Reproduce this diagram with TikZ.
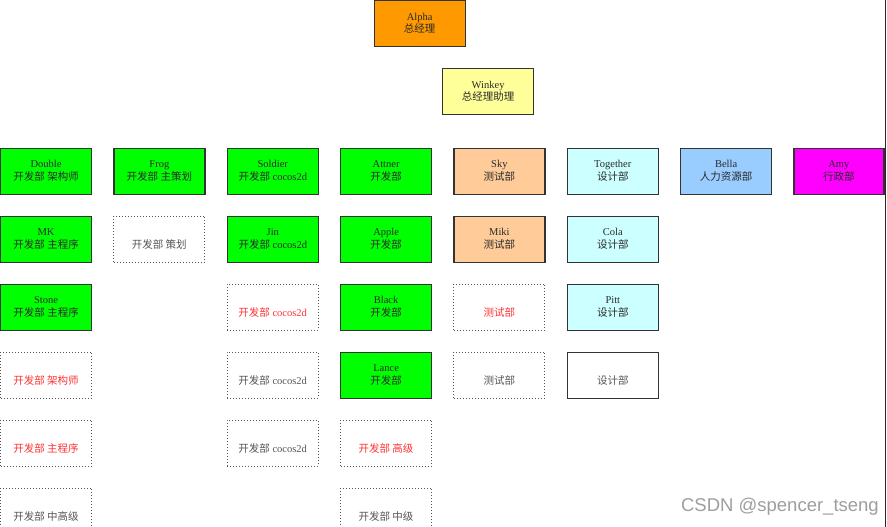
\documentclass[tikz,border=0pt]{standalone}
\usepackage{fontspec}
\setmainfont{Liberation Serif}
\newfontfamily\cjk{Noto Sans CJK SC}
\newfontfamily\wmfont{Liberation Sans}
\definecolor{devgreen}{HTML}{00FF00}
\definecolor{bossorange}{HTML}{FF9900}
\definecolor{assistyellow}{HTML}{FFFF99}
\definecolor{testpeach}{HTML}{FFCC99}
\definecolor{designcyan}{HTML}{CCFFFF}
\definecolor{hrblue}{HTML}{99CCFF}
\definecolor{adminmagenta}{HTML}{FF00FF}
\definecolor{boxline}{HTML}{333333}
\definecolor{dotline}{HTML}{555555}
\definecolor{inktext}{HTML}{2A2A2A}
\definecolor{greytext}{HTML}{555555}
\definecolor{vacantred}{HTML}{FF3333}
\definecolor{wmgrey}{HTML}{9E9E9E}
\tikzset{
  cell/.style={rectangle, minimum width=91pt, minimum height=46pt, inner sep=0pt, anchor=north west},
  solidcell/.style={cell, draw=boxline, line width=1.2pt},
  dotcell/.style={cell, draw=dotline, line width=1pt, dotted},
  txt/.style={inner sep=0pt, anchor=base, font=\fontsize{10.5}{12.5}\selectfont, text=inktext},
  greytxt/.style={txt, text=greytext},
  redtxt/.style={txt, text=vacantred},
}
% two-line box: name, x, y, box style, first line, second line
\newcommand\orgcard[6]{%
  \node[#4] (#1) at (#2,#3) {};
  \node[txt] (#1-a) at ([yshift=3.5pt]#1.center) {#5};
  \node[txt] (#1-b) at ([yshift=-9pt]#1.center) {#6};
}
% one-line box: name, x, y, box style, text style, text
\newcommand\orgslot[6]{%
  \node[#4] (#1) at (#2,#3) {};
  \node[#5] (#1-b) at ([yshift=-9pt]#1.center) {#6};
}
\begin{document}
\begin{tikzpicture}[x=1pt,y=-1pt]
\useasboundingbox (0,0) rectangle (887,527);
\clip (0,0) rectangle (887,527);
\fill[white] (0,0) rectangle (887,527);

% management
\orgcard{alpha}{373.5}{0}{solidcell, fill=bossorange}{Alpha}{\cjk 总经理}
\orgcard{winkey}{442}{68}{solidcell, fill=assistyellow}{Winkey}{\cjk 总经理助理}

% column 1: architects / programmers
\orgcard{double}{0}{147.5}{solidcell, fill=devgreen}{Double}{\cjk 开发部 架构师}
\orgcard{mk}{0}{215.5}{solidcell, fill=devgreen}{MK}{\cjk 开发部 主程序}
\orgcard{stone}{0}{283.5}{solidcell, fill=devgreen}{Stone}{\cjk 开发部 主程序}
\orgslot{arch}{0}{351.5}{dotcell}{redtxt}{\cjk 开发部 架构师}
\orgslot{mainprog}{0}{419.5}{dotcell}{redtxt}{\cjk 开发部 主程序}
\orgslot{midsenior}{0}{487.5}{dotcell}{greytxt}{\cjk 开发部 中高级}

% column 2: planning
\orgcard{frog}{113.3}{147.5}{solidcell, fill=devgreen}{Frog}{\cjk 开发部 主策划}
\orgslot{plan}{113.3}{215.5}{dotcell}{greytxt}{\cjk 开发部 策划}

% column 3: cocos2d
\orgcard{soldier}{226.7}{147.5}{solidcell, fill=devgreen}{Soldier}{{\cjk 开发部} cocos2d}
\orgcard{jin}{226.7}{215.5}{solidcell, fill=devgreen}{Jin}{{\cjk 开发部} cocos2d}
\orgslot{cocosA}{226.7}{283.5}{dotcell}{redtxt}{{\cjk 开发部} cocos2d}
\orgslot{cocosB}{226.7}{351.5}{dotcell}{greytxt}{{\cjk 开发部} cocos2d}
\orgslot{cocosC}{226.7}{419.5}{dotcell}{greytxt}{{\cjk 开发部} cocos2d}

% column 4: developers
\orgcard{attner}{340}{147.5}{solidcell, fill=devgreen}{Attner}{\cjk 开发部}
\orgcard{apple}{340}{215.5}{solidcell, fill=devgreen}{Apple}{\cjk 开发部}
\orgcard{black}{340}{283.5}{solidcell, fill=devgreen}{Black}{\cjk 开发部}
\orgcard{lance}{340}{351.5}{solidcell, fill=devgreen}{Lance}{\cjk 开发部}
\orgslot{senior}{340}{419.5}{dotcell}{redtxt}{\cjk 开发部 高级}
\orgslot{middle}{340}{487.5}{dotcell}{greytxt}{\cjk 开发部 中级}

% column 5: testing
\orgcard{sky}{453.3}{147.5}{solidcell, fill=testpeach}{Sky}{\cjk 测试部}
\orgcard{miki}{453.3}{215.5}{solidcell, fill=testpeach}{Miki}{\cjk 测试部}
\orgslot{testA}{453.3}{283.5}{dotcell}{redtxt}{\cjk 测试部}
\orgslot{testB}{453.3}{351.5}{dotcell}{greytxt}{\cjk 测试部}

% column 6: design
\orgcard{together}{566.7}{147.5}{solidcell, fill=designcyan}{Together}{\cjk 设计部}
\orgcard{cola}{566.7}{215.5}{solidcell, fill=designcyan}{Cola}{\cjk 设计部}
\orgcard{pitt}{566.7}{283.5}{solidcell, fill=designcyan}{Pitt}{\cjk 设计部}
\orgslot{designA}{566.7}{351.5}{solidcell, fill=white}{greytxt}{\cjk 设计部}

% columns 7 and 8: HR and administration
\orgcard{bella}{680}{147.5}{solidcell, fill=hrblue}{Bella}{\cjk 人力资源部}
\node[solidcell, fill=adminmagenta, minimum width=90pt] (amy) at (793.3,147.5) {};
\node[txt] (amy-a) at ([yshift=3.5pt]amy.center) {Amy};
\node[txt] (amy-b) at ([yshift=-9pt]amy.center) {\cjk 行政部};

% page edge on the right
\coordinate (edgetop) at (885.5,0);
\coordinate (edgebot) at (885.5,527);
\draw[line width=1.6pt, black!85] (edgetop) -- (edgebot);

% watermark
\node[anchor=east, inner sep=0pt, text=wmgrey, font=\wmfont\fontsize{18.5}{21}\selectfont] (wm) at (879,507) {CSDN @spencer\_tseng};
\end{tikzpicture}
\end{document}
